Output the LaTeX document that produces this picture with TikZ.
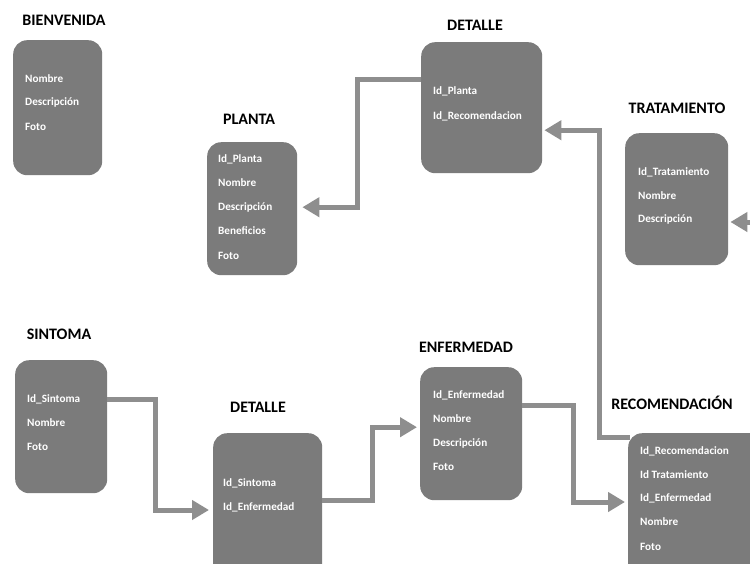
\documentclass[tikz,border=0pt]{standalone}
\usepackage{fontspec}
\setmainfont{Carlito}
\usetikzlibrary{arrows.meta}
\definecolor{boxgray}{HTML}{7B7B7B}
\definecolor{linegray}{HTML}{8E8E8E}
\tikzset{
  tbox/.style={draw=none, fill=boxgray, rounded corners=14pt, anchor=north west, inner sep=0pt},
  ttl/.style={font=\fontsize{16}{18}\selectfont\bfseries, text=black, inner sep=0pt},
  fld/.style={font=\fontsize{11.2}{13}\selectfont\bfseries, text=white, anchor=west, inner sep=0pt},
  conn/.style={draw=linegray, line width=5pt, -{Triangle[length=17pt,width=19pt]}},
}
\begin{document}
\begin{tikzpicture}[x=1pt,y=-1pt]
\clip (0,0) rectangle (750,563);
\fill[white] (0,0) rectangle (750,563);

% BIENVENIDA
\node[ttl] (tbien) at (64,20) {BIENVENIDA};
\node[tbox, minimum width=89pt, minimum height=135pt] (bien) at (13,40) {};
\node[fld] (bien1) at (25,79) {Nombre};
\node[fld] (bien2) at (25,102) {Descripción};
\node[fld] (bien3) at (25,127) {Foto};

% PLANTA
\node[ttl] (tplanta) at (249,119) {PLANTA};
\node[tbox, minimum width=90pt, minimum height=133pt] (planta) at (207,142) {};
\node[fld] (pl1) at (218,159) {Id\_Planta};
\node[fld] (pl2) at (218,183) {Nombre};
\node[fld] (pl3) at (218,207) {Descripción};
\node[fld] (pl4) at (218,231) {Beneficios};
\node[fld] (pl5) at (218,256) {Foto};

% DETALLE top
\node[ttl] (tdet1) at (475,25) {DETALLE};
\node[tbox, minimum width=121pt, minimum height=131pt] (det1) at (421,42) {};
\node[fld] (d11) at (433,91) {Id\_Planta};
\node[fld] (d12) at (433,116) {Id\_Recomendacion};

% TRATAMIENTO
\node[ttl] (ttrat) at (677,108) {TRATAMIENTO};
\node[tbox, minimum width=103pt, minimum height=132pt] (trat) at (625,133) {};
\node[fld] (tr1) at (638,172) {Id\_Tratamiento};
\node[fld] (tr2) at (638,196) {Nombre};
\node[fld] (tr3) at (638,219) {Descripción};

% SINTOMA
\node[ttl] (tsint) at (59,334) {SINTOMA};
\node[tbox, minimum width=92pt, minimum height=133pt] (sint) at (15,360) {};
\node[fld] (s1) at (27,399) {Id\_Sintoma};
\node[fld] (s2) at (27,423) {Nombre};
\node[fld] (s3) at (27,447) {Foto};

% DETALLE bottom
\node[ttl] (tdet2) at (258,407) {DETALLE};
\node[tbox, minimum width=109pt, minimum height=145pt] (det2) at (213,433) {};
\node[fld] (d21) at (223,483) {Id\_Sintoma};
\node[fld] (d22) at (223,507) {Id\_Enfermedad};

% ENFERMEDAD
\node[ttl] (tenf) at (466,347) {ENFERMEDAD};
\node[tbox, minimum width=102pt, minimum height=133pt] (enf) at (420,367) {};
\node[fld] (e1) at (433,395) {Id\_Enfermedad};
\node[fld] (e2) at (433,419) {Nombre};
\node[fld] (e3) at (433,443) {Descripción};
\node[fld] (e4) at (433,467) {Foto};

% RECOMENDACION
\node[ttl] (treco) at (672,403) {RECOMENDACIÓN};
\node[tbox, minimum width=140pt, minimum height=145pt] (reco) at (628,433) {};
\node[fld] (r1) at (640,451) {Id\_Recomendacion};
\node[fld] (r2) at (640,475) {Id Tratamiento};
\node[fld] (r3) at (640,498) {Id\_Enfermedad};
\node[fld] (r4) at (640,522) {Nombre};
\node[fld] (r5) at (640,547) {Foto};

% connectors
\coordinate (trin) at (752,222);
\draw[conn] ([yshift=-37pt]det1.north west) -- ++(-64,0) |- ([xshift=5pt,yshift=1.5pt]planta.east);
\draw[conn] ([xshift=2pt,yshift=-4pt]reco.north west) -- ++(-31,0) |- ([xshift=2pt,yshift=-22.5pt]det1.east);
\draw[conn] (trin) -- ([xshift=2pt]trat.east |- trin);
\draw[conn] ([yshift=-39pt]sint.north east) -- ++(48,0) |- ([xshift=-4pt,yshift=-3pt]det2.west |- d22);
\draw[conn] ([yshift=-67pt]det2.north east) -- ++(50,0) |- ([xshift=-3pt,yshift=6.5pt]enf.west);
\draw[conn] ([yshift=-38pt]enf.north east) -- ++(51,0) |- ([xshift=-3pt,yshift=-4pt]reco.west |- r3);
\end{tikzpicture}
\end{document}
